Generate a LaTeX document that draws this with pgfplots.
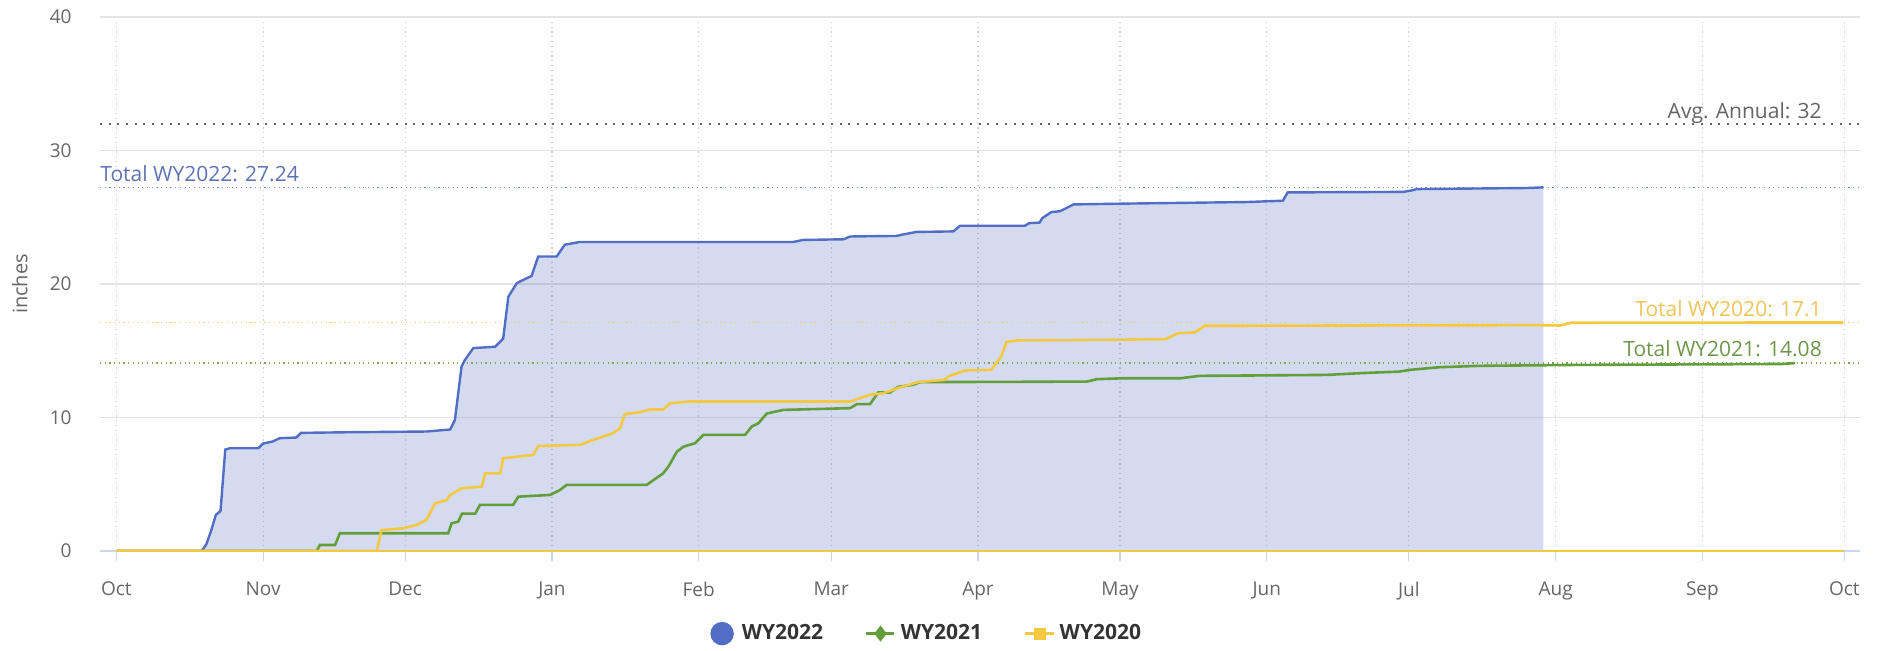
\documentclass[border=0pt]{standalone}
\usepackage{fontspec}
\setmainfont{Open Sans}
\usepackage{pgfplots}
\usepackage{pgfplotstable}
\pgfplotsset{compat=1.18}

\definecolor{c22}{RGB}{82,110,196}
\definecolor{c21}{RGB}{98,158,58}
\definecolor{c20}{RGB}{245,200,66}
\definecolor{tickcol}{RGB}{102,102,102}
\definecolor{axiscol}{RGB}{204,214,235}
\definecolor{hgrid}{RGB}{228,228,228}
\definecolor{vgrid}{RGB}{205,205,205}
\definecolor{avgcol}{RGB}{100,100,100}
\definecolor{lab22}{RGB}{95,115,180}
\definecolor{lab21}{RGB}{110,150,75}
\definecolor{lab20}{RGB}{238,196,90}
\definecolor{dot22}{RGB}{120,140,205}
\definecolor{dot21}{RGB}{130,165,90}
\definecolor{dot20}{RGB}{240,205,110}
\definecolor{legtext}{RGB}{51,51,51}

\pgfplotstableread{
day val
0 0
18 0
19 0.5
20 1.5
21 2.7
22 3.0
23 7.6
24 7.7
30 7.7
31 8.05
33 8.2
34.5 8.45
38 8.5
39 8.85
50 8.9
65.5 8.95
70.5 9.1
71.5 9.8
72.9 13.8
73.6 14.3
75.4 15.2
80 15.3
81.7 15.9
82.8 19.06
84.6 20.07
85.3 20.2
87.7 20.6
89.1 22.06
93 22.06
94.7 22.94
97.9 23.15
143 23.15
145 23.3
153.6 23.35
155 23.56
164.8 23.6
166 23.7
169 23.9
176.8 23.94
178.2 24.36
191.9 24.36
192.8 24.56
195 24.6
195.6 24.94
197.5 25.39
199.3 25.45
202.2 25.96
212.6 26.02
238.8 26.14
246.4 26.24
247.4 26.86
271.8 26.9
273.5 27.0
274.7 27.11
298 27.19
301.4 27.24
}\wyA

\pgfplotstableread{
day val
0 0
42.3 0
43 0.45
46.2 0.45
47.2 1.33
70.1 1.33
70.8 2.07
72.2 2.2
73 2.8
75.8 2.8
76.8 3.45
83.8 3.45
84.9 4.07
91.6 4.2
93.7 4.57
95.1 4.95
112 4.95
113.4 5.3
115.5 5.82
116.6 6.32
118.4 7.44
119.8 7.82
122.2 8.07
124 8.7
132.8 8.7
134.2 9.32
135.6 9.57
137.4 10.3
140.9 10.57
155 10.7
156.4 11.0
159.2 11.0
160.9 11.87
163.4 11.87
165.2 12.3
168.3 12.45
169.8 12.65
205 12.69
207.1 12.87
212.6 12.94
224.8 12.94
228.8 13.12
255.6 13.19
262.7 13.32
271 13.44
273.3 13.57
279.6 13.77
288 13.87
308.5 13.94
352 14.01
354.6 14.08
}\wyB

\pgfplotstableread{
day val
0 0
55 0
56 1.57
60.6 1.7
63.4 1.95
65.5 2.32
67.3 3.57
69.8 3.82
70.5 4.2
72.9 4.7
77.2 4.82
77.9 5.82
81.1 5.82
81.7 6.95
88.1 7.2
89.1 7.87
97.9 7.95
100.7 8.32
104.9 8.82
106.4 9.2
107.4 10.25
110.6 10.4
112.7 10.6
115.5 10.6
117 11.07
121.2 11.2
155 11.2
159.2 11.7
162 11.82
165.5 12.25
169.3 12.65
174.9 12.82
175.9 13.1
179.2 13.52
184.8 13.57
186.9 14.57
188 15.65
190.1 15.77
209 15.82
221.6 15.87
224.3 16.32
227.8 16.37
229.9 16.87
300 16.92
305 16.89
307.4 17.1
364.8 17.12
}\wyC

\begin{document}
\begin{tikzpicture}
\useasboundingbox (-50pt,-49.5pt) rectangle (890.5pt,275.5pt);
\begin{axis}[
  at={(0,0)}, anchor=south west,
  scale only axis, width=880pt, height=267pt,
  xmin=-3.46, xmax=368.3, ymin=0, ymax=40,
  xtick={0,31,61,92,123,151,182,212,243,273,304,335,365},
  xticklabels={Oct,Nov,Dec,Jan,Feb,Mar,Apr,May,Jun,Jul,Aug,Sep,Oct},
  ytick={0,10,20,30,40},
  axis x line*=bottom, axis y line*=left,
  x axis line style={draw=axiscol, line width=0.6pt, -},
  y axis line style={draw=none, -},
  ytick style={draw=none},
  xtick style={draw=axiscol, line width=0.6pt},
  xtick align=outside,
  major tick length=5pt,
  xmajorgrids, ymajorgrids,
  x grid style={draw=vgrid, line width=0.6pt, dash pattern=on 0.6pt off 1.8pt},
  y grid style={draw=hgrid, line width=0.6pt},
  tick label style={font=\fontsize{9.5}{11}\selectfont, text=tickcol},
  /pgf/number format/assume math mode=true,
  xticklabel style={yshift=-7pt},
  yticklabel style={xshift=-10.7pt},
  ylabel={inches},
  ylabel style={at={(axis description cs:-0.0455,0.5)}, anchor=center, font=\fontsize{10}{12}\selectfont, text=tickcol},
  legend columns=3,
  legend style={at={(axis description cs:0.3466,-0.1547)}, anchor=west, draw=none, fill=none, inner sep=0pt,
    font=\bfseries\fontsize{10.5}{12}\selectfont, text=legtext,
    /tikz/every even column/.append style={column sep=19pt}},
]
% area fill of WY2022
\addplot[draw=none, fill=c22, fill opacity=0.25, forget plot] table[x=day,y=val] {\wyA} \closedcycle;
% reference lines
\addplot[avgcol, line width=1pt, dash pattern=on 1pt off 3.35pt, forget plot] coordinates {(-3.46,32) (368.3,32)};
\addplot[dot22, line width=0.6pt, dash pattern=on 0.6pt off 1.75pt, forget plot] coordinates {(-3.46,27.24) (368.3,27.24)};
\addplot[dot20, line width=0.6pt, dash pattern=on 0.6pt off 1.75pt, forget plot] coordinates {(-3.46,17.1) (368.3,17.1)};
\addplot[dot21, line width=0.6pt, dash pattern=on 0.6pt off 1.75pt, forget plot] coordinates {(-3.46,14.08) (368.3,14.08)};
% series
\addplot[c22, line width=1.2pt,
  legend image code/.code={\fill[c22] (5.25pt,0pt) circle (5.25pt); \path (12.5pt,0pt);}]
  table[x=day,y=val] {\wyA};
\addlegendentry{WY2022}
\addplot[c21, line width=1.3pt,
  legend image code/.code={\draw[c21, line width=1.3pt] (0pt,0pt) -- (14pt,0pt);
    \fill[c21] (7pt,3pt) -- (9.3pt,0pt) -- (7pt,-3pt) -- (4.7pt,0pt) -- cycle; \path (14.5pt,0pt);}]
  table[x=day,y=val] {\wyB};
\addlegendentry{WY2021}
\addplot[c20, line width=1.3pt,
  legend image code/.code={\draw[c20, line width=1.3pt] (0pt,0pt) -- (14.5pt,0pt);
    \fill[c20] (5pt,-2.3pt) rectangle (9.5pt,2.3pt);}]
  table[x=day,y=val] {\wyC};
\addlegendentry{WY2020}
\addplot[c20, line width=1.3pt, forget plot] coordinates {(0,0) (365,0)};
% labels
\node[anchor=base east, inner sep=0pt, yshift=2.8pt, text=avgcol, font=\fontsize{10.5}{12}\selectfont] at (axis cs:360.3,32) {Avg. Annual: 32};
\node[anchor=base west, inner sep=0pt, yshift=2.8pt, text=lab22, font=\fontsize{10.5}{12}\selectfont] at (axis cs:-3.46,27.24) {Total WY2022: 27.24};
\node[anchor=base east, inner sep=0pt, yshift=3pt, text=lab20, font=\fontsize{10.5}{12}\selectfont] at (axis cs:360.3,17.1) {Total WY2020: 17.1};
\node[anchor=base east, inner sep=0pt, yshift=3.2pt, text=lab21, font=\fontsize{10.5}{12}\selectfont] at (axis cs:360.3,14.08) {Total WY2021: 14.08};
\end{axis}
\end{tikzpicture}
\end{document}
